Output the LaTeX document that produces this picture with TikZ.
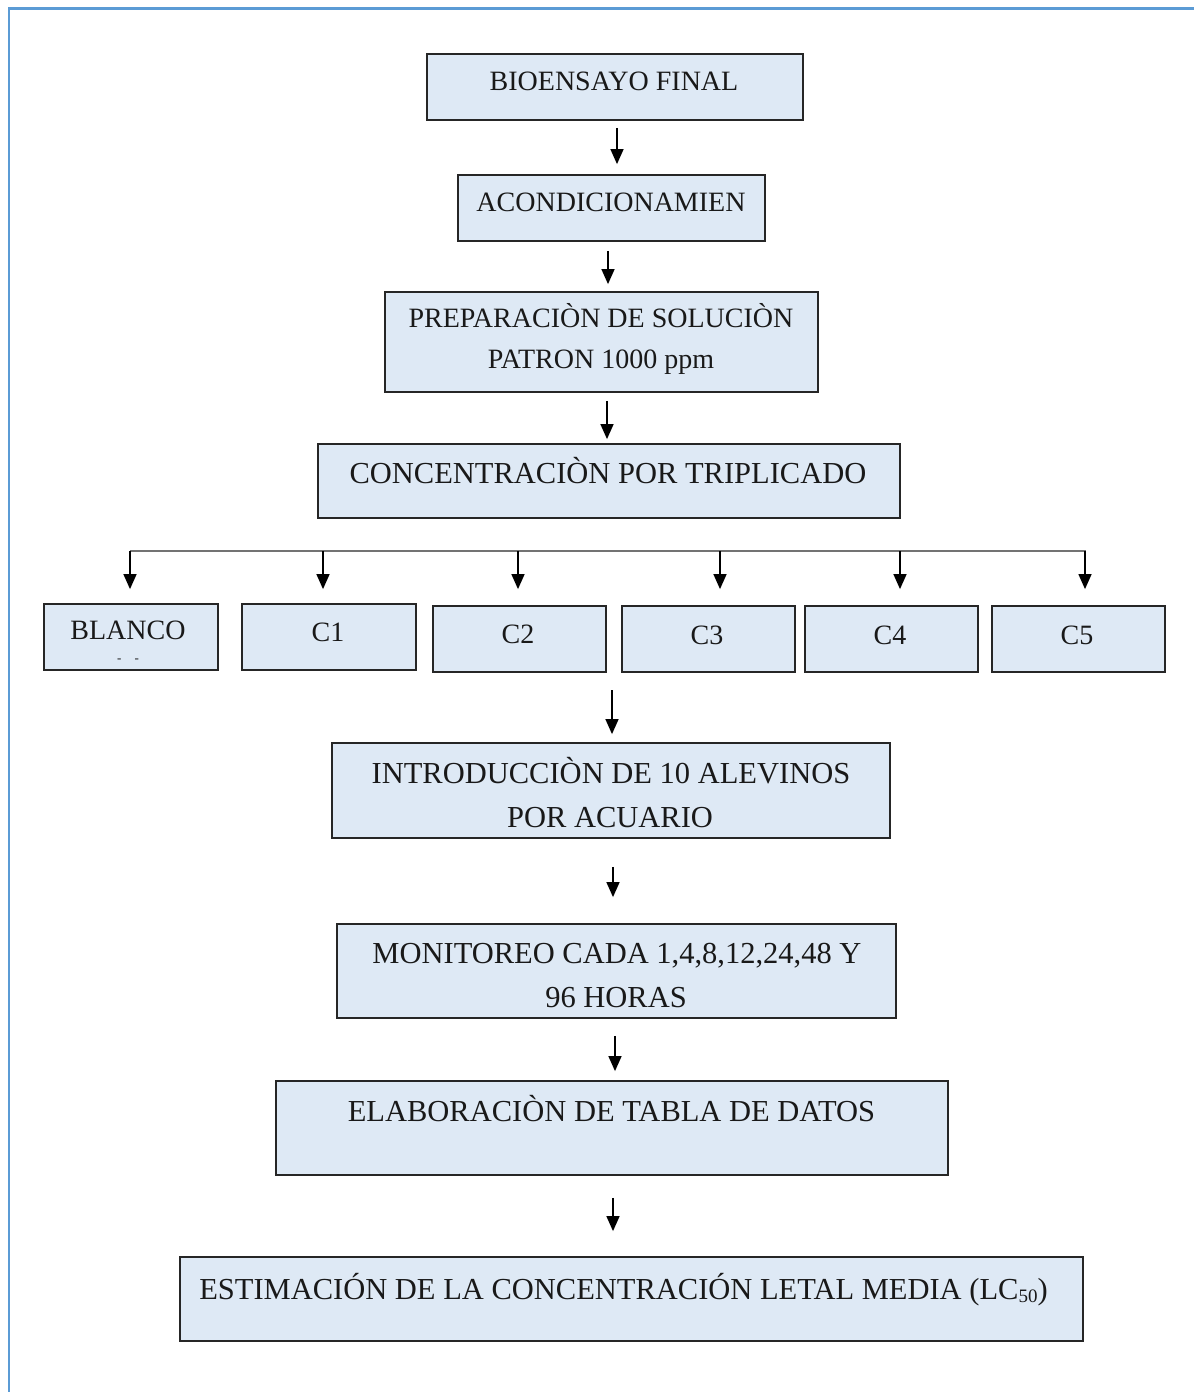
\documentclass[tikz,border=0pt]{standalone}
\usepackage{fontspec}
\setmainfont{Liberation Serif}
\usetikzlibrary{arrows.meta}
\definecolor{boxfill}{HTML}{DEE9F5}
\definecolor{frameblue}{HTML}{5B9BD5}
\begin{document}
\begin{tikzpicture}[x=1pt,y=-1pt,
  box/.style={draw=black!85, line width=1.8pt, fill=boxfill, inner sep=0pt, rectangle},
  lbl/.style={anchor=base, inner sep=0pt, text=black!90},
  fs/.style={font=\fontsize{28}{34}\selectfont},
  fl/.style={font=\fontsize{30.5}{36}\selectfont},
  arr/.style={line width=1.4pt, -{Triangle[length=15pt,width=13pt]}},
  bus/.style={line width=2pt, draw=black!55}]
\useasboundingbox (0,0) rectangle (1194,1392);
\fill[white] (0,0) rectangle (1194,1392);
\draw[frameblue, line width=2.6pt] (9,1392) -- (9,8.5) -- (1194,8.5);

% main boxes
\node[box, minimum width=376pt, minimum height=66pt] (b1) at (615,87) {};
\node[box, minimum width=307pt, minimum height=66pt] (b2) at (611.5,208) {};
\node[box, minimum width=433pt, minimum height=100pt] (b3) at (601.5,342) {};
\node[box, minimum width=582pt, minimum height=74pt] (b4) at (609,481) {};
\node[box, minimum width=174pt, minimum height=66pt] (c0) at (131,637) {};
\node[box, minimum width=174pt, minimum height=66pt] (c1) at (329,637) {};
\node[box, minimum width=173pt, minimum height=66pt] (c2) at (519.5,639) {};
\node[box, minimum width=173pt, minimum height=66pt] (c3) at (708.5,639) {};
\node[box, minimum width=173pt, minimum height=66pt] (c4) at (891.5,639) {};
\node[box, minimum width=173pt, minimum height=66pt] (c5) at (1078.5,639) {};
\node[box, minimum width=558pt, minimum height=95pt] (b5) at (611,790.5) {};
\node[box, minimum width=559pt, minimum height=94pt] (b6) at (616.5,971) {};
\node[box, minimum width=672pt, minimum height=94pt] (b7) at (612,1128) {};
\node[box, minimum width=903pt, minimum height=84pt] (b8) at (631.5,1299) {};

% texts
\node[lbl, fs] (t1) at (614,90) {BIOENSAYO FINAL};
\node[lbl, fs] (t2) at (611,211) {ACONDICIONAMIEN};
\node[lbl, fs] (t3a) at (601,327) {PREPARACIÒN DE SOLUCIÒN};
\node[lbl, fs] (t3b) at (601,368) {PATRON 1000 ppm};
\node[lbl, fl] (t4) at (608,483) {CONCENTRACIÒN POR TRIPLICADO};
\node[lbl, fs] (tc0) at (128,639) {BLANCO};
\node[lbl, font=\fontsize{13}{14}\selectfont] (tc0d) at (128,662) {-\quad -};
\node[lbl, fs] (tc1) at (328,641) {C1};
\node[lbl, fs] (tc2) at (518,643) {C2};
\node[lbl, fs] (tc3) at (707,644) {C3};
\node[lbl, fs] (tc4) at (890,644) {C4};
\node[lbl, fs] (tc5) at (1077,644) {C5};
\node[lbl, fl] (t5a) at (611,783) {INTRODUCCIÒN DE 10 ALEVINOS};
\node[lbl, fl] (t5b) at (610,827) {POR ACUARIO};
\node[lbl, fl] (t6a) at (617,963) {MONITOREO CADA 1,4,8,12,24,48 Y};
\node[lbl, fl] (t6b) at (616,1007) {96 HORAS};
\node[lbl, fl] (t7) at (611.5,1121) {ELABORACIÒN DE TABLA DE DATOS};
\node[lbl, fl] (t8) at (623.5,1299) {ESTIMACIÓN DE LA CONCENTRACIÓN LETAL MEDIA (LC{\fontsize{19}{20}\selectfont\raisebox{-3pt}{50}})};

% arrows
\draw[arr, shorten <=7pt, shorten >=10pt] ([xshift=2pt]b1.south) -- ([xshift=2pt]b1.south |- b2.north);
\draw[arr, shorten <=9pt, shorten >=7pt] ([xshift=-3.5pt]b2.south) -- ([xshift=-3.5pt]b2.south |- b3.north);
\draw[arr, shorten <=8pt, shorten >=4pt] ([xshift=5.5pt]b3.south) -- ([xshift=5.5pt]b3.south |- b4.north);

% bus
\coordinate (busL) at (130,551);
\coordinate (busR) at (1086,551);
\draw[bus] (busL) -- (busR);
\draw[arr, shorten >=14pt] ([xshift=-1pt]c0.north |- busL) -- ([xshift=-1pt]c0.north);
\draw[arr, shorten >=14pt] ([xshift=-6pt]c1.north |- busL) -- ([xshift=-6pt]c1.north);
\draw[arr, shorten >=16pt] ([xshift=-1.5pt]c2.north |- busL) -- ([xshift=-1.5pt]c2.north);
\draw[arr, shorten >=16pt] ([xshift=11.5pt]c3.north |- busL) -- ([xshift=11.5pt]c3.north);
\draw[arr, shorten >=16pt] ([xshift=8.5pt]c4.north |- busL) -- ([xshift=8.5pt]c4.north);
\draw[arr, shorten >=16pt] ([xshift=6.5pt]c5.north |- busL) -- ([xshift=6.5pt]c5.north);

% lower arrows
\coordinate (a4s) at (612,690);
\draw[arr, shorten >=8pt] (a4s) -- ([xshift=1pt]b5.north);
\draw[arr, shorten <=28pt, shorten >=26pt] ([xshift=2pt]b5.south) -- ([xshift=2pt]b5.south |- b6.north);
\draw[arr, shorten <=17pt, shorten >=9pt] ([xshift=-1.5pt]b6.south) -- ([xshift=-1.5pt]b6.south |- b7.north);
\draw[arr, shorten <=22pt, shorten >=25pt] ([xshift=1pt]b7.south) -- ([xshift=1pt]b7.south |- b8.north);
\end{tikzpicture}
\end{document}
